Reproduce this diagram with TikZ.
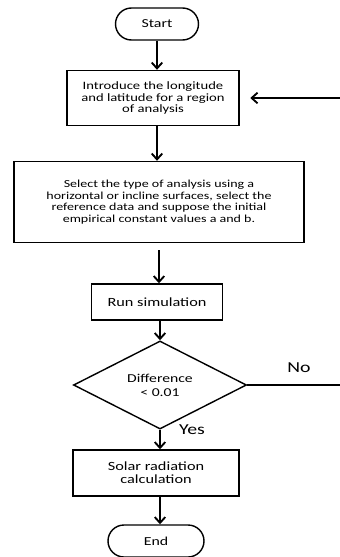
\documentclass[tikz,border=0pt]{standalone}
\usepackage{fontspec}
\setmainfont[FakeStretch=1.3]{Carlito}
\usetikzlibrary{shapes.geometric,arrows.meta}
\tikzset{
  term/.style={draw,line width=1.2pt,rounded corners=0.48cm,minimum height=0.96cm,font=\fontsize{10.4}{11}\selectfont},
  proc/.style={draw,line width=1.2pt,align=center,inner sep=2pt,font=\fontsize{10.7}{11}\selectfont},
  decide/.style={draw,line width=1.2pt,diamond,align=center,inner sep=0pt,minimum width=5.19cm,minimum height=1.95cm,font=\fontsize{10.3}{12}\selectfont},
  flow/.style={line width=1.6pt,-{Straight Barb[length=5pt,width=9pt]}},
  lbl/.style={font=\fontsize{13}{14}\selectfont}
}
\begin{document}
\begin{tikzpicture}[x=0.03cm,y=-0.03cm]
\useasboundingbox (0,0) rectangle (340,557);
\node[term,minimum width=2.49cm] (start) at (157,24) {Start};
\node[proc,minimum width=5.16cm,minimum height=1.65cm,font=\fontsize{9.6}{9.4}\selectfont] (coord) at (153,98)
  {Introduce the longitude\\and latitude for a region\\of analysis};
\node[proc,minimum width=8.7cm,minimum height=2.43cm,font=\fontsize{9.2}{9.9}\selectfont] (select) at (159,202)
  {Select the type of analysis using a\\horizontal or incline surfaces, select the\\reference data and suppose the initial\\empirical constant values a and b.};
\node[proc,minimum width=3.93cm,minimum height=1.08cm] (run) at (157,302) {Run simulation};
\node[decide] (diff) at (160,385) {Difference\\< 0.01};
\node[proc,minimum width=4.98cm,minimum height=1.38cm] (solar) at (156,473)
  {Solar radiation\\calculation};
\node[term,minimum width=2.88cm] (end) at (156,541) {End};
\draw[flow] (start) -- (start |- coord.north);
\draw[flow] (coord.south -| 157,0) -- (select.north -| 157,0);
\draw[flow] (select.south -| 159,0) ++(0,7) -- (run.north -| 159,0);
\draw[flow] (run.south -| 160,0) -- (diff.north);
\draw[flow] (diff.south) -- (solar.north -| diff.south);
\draw[flow] (solar.south -| 160,0) -- (end.north -| 160,0);
% retour si la difference est trop grande
\coordinate (back) at (350,385);
\draw[line width=1.6pt] (diff.east) -- (back);
\draw[flow] (back) -- (350,98) -- ([xshift=9] coord.east);
\node[lbl] (no) at (299,368) {No};
\node[lbl] (yes) at (192,430) {Yes};
\end{tikzpicture}
\end{document}
